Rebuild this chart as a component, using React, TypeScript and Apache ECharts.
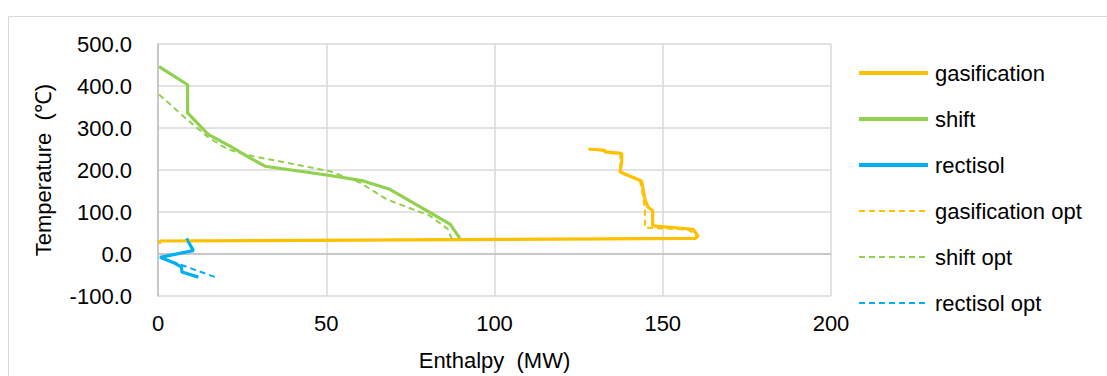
import React, { useEffect, useRef } from "react";
import * as echarts from "echarts";

const seriesNames = ["gasification", "shift", "rectisol", "gasification opt", "shift opt", "rectisol opt"];
const colors = ["#FFC000", "#92D050", "#00B0F0", "#FFC000", "#92D050", "#00B0F0"];

const gasification: number[][] = [
  [127.9, 250], [132.8, 247], [132.8, 243], [137.8, 239.5], [137.8, 218], [137.3, 195],
  [143.7, 174], [144.7, 131], [145.6, 112], [147.0, 103], [147.0, 67], [159.0, 59],
  [160.5, 43], [159.6, 37], [0.6, 31], [0.4, 24],
];
const shift: number[][] = [
  [0.3, 446], [8.8, 403], [8.8, 336], [14.9, 285], [21.4, 257], [26.4, 233],
  [31.8, 209], [51.1, 187], [61.0, 174], [68.9, 154], [86.8, 71], [89.7, 37],
];
const rectisol: number[][] = [
  [8.5, 37], [10.5, 8], [0.6, -8], [4.5, -20], [7.0, -31], [7.1, -43], [12.0, -55],
];
const gasificationOpt: number[][] = [
  [128.5, 249], [132.6, 246], [133.0, 241], [137.4, 238], [137.4, 196], [143.2, 175],
  [144.2, 135], [144.7, 110], [144.7, 63], [157.5, 58], [160.3, 43], [159.4, 37], [0.6, 31],
];
const shiftOpt: number[][] = [
  [0.3, 380], [7.5, 328], [14.9, 278], [20.8, 249], [23.8, 242], [28.2, 233],
  [51.1, 197], [60.0, 170], [68.0, 130], [80.8, 91], [86.2, 59], [87.3, 36],
];
const rectisolOpt: number[][] = [
  [8.5, 37], [10.5, 8], [0.6, -8], [5.5, -22], [17.0, -55],
];

const seriesData = [gasification, shift, rectisol, gasificationOpt, shiftOpt, rectisolOpt];

const xTicks = { min: 0, max: 200, interval: 50 };
const yTicks = { min: -100, max: 500, interval: 100 };

export default function App() {
  const ref = useRef<HTMLDivElement>(null);
  useEffect(() => {
    if (!ref.current) return;
    const chart = echarts.init(ref.current, undefined, { renderer: "svg" });
    const font = "'Liberation Sans', Arial, sans-serif";
    const series: any[] = seriesData.map((d, i) => {
      const dashed = i >= 3;
      const s: any = {
        name: seriesNames[i],
        type: "line",
        data: d,
        symbol: "none",
        showSymbol: false,
        smooth: false,
        color: colors[i],
        lineStyle: dashed
          ? { color: colors[i], width: 2, type: [6, 4] }
          : { color: colors[i], width: 3.2 },
        z: dashed ? 3 : 2,
      };
      if (i === 0) {
        s.markLine = {
          silent: true,
          symbol: "none",
          label: { show: false },
          lineStyle: { color: "#bfbfbf", width: 1.5, type: "solid" },
          data: [{ yAxis: 0 }],
          z: 1,
        };
      }
      return s;
    });
    const legendData = seriesNames.map((name, i) => ({
      name,
      itemStyle: { opacity: 0 },
      lineStyle:
        i >= 3
          ? { color: colors[i], width: 2, type: [6, 4] }
          : { color: colors[i], width: 4, type: "solid" },
    }));
    chart.setOption({
      animation: false,
      textStyle: { fontFamily: font },
      grid: { left: 158, right: 276, top: 44, bottom: 79, containLabel: false },
      graphic: [
        {
          type: "rect",
          shape: { x: 8.5, y: 16.5, width: 1200, height: 500 },
          style: { fill: "none", stroke: "#d9d9d9", lineWidth: 1 },
          silent: true,
          z: -10,
        },
      ],
      legend: {
        orient: "vertical",
        left: 852,
        top: 57,
        itemWidth: 69,
        itemHeight: 14,
        itemGap: 24,
        data: legendData,
        itemStyle: { opacity: 0 },
        textStyle: { fontSize: 22, color: "#000", fontFamily: font, padding: [0, 0, 0, 2] },
      },
      xAxis: {
        type: "value",
        min: xTicks.min,
        max: xTicks.max,
        interval: xTicks.interval,
        name: "Enthalpy  (MW)",
        nameLocation: "middle",
        nameGap: 53,
        nameTextStyle: { fontSize: 22, color: "#000", fontFamily: font },
        axisLine: { show: false, onZero: false },
        axisTick: { show: false },
        axisLabel: { fontSize: 22, color: "#000", margin: 16, fontFamily: font },
        splitLine: { show: true, lineStyle: { color: "#d9d9d9", width: 1.5 } },
      },
      yAxis: {
        type: "value",
        min: yTicks.min,
        max: yTicks.max,
        interval: yTicks.interval,
        name: "Temperature  (℃)",
        nameLocation: "middle",
        nameGap: 104,
        nameTextStyle: { fontSize: 22, color: "#000", fontFamily: font },
        axisLine: { show: true, onZero: false, lineStyle: { color: "#bfbfbf", width: 1.5 } },
        axisTick: { show: false },
        axisLabel: {
          fontSize: 22,
          color: "#000",
          margin: 26,
          fontFamily: font,
          formatter: (v: number) => v.toFixed(1),
        },
        splitLine: { show: true, lineStyle: { color: "#d9d9d9", width: 1.5 } },
      },
      series,
    });
    return () => chart.dispose();
  }, []);
  return (
    <div
      ref={ref}
      style={{ position: "fixed", left: 0, top: 0, width: 1107, height: 376, background: "#fff" }}
    />
  );
}
